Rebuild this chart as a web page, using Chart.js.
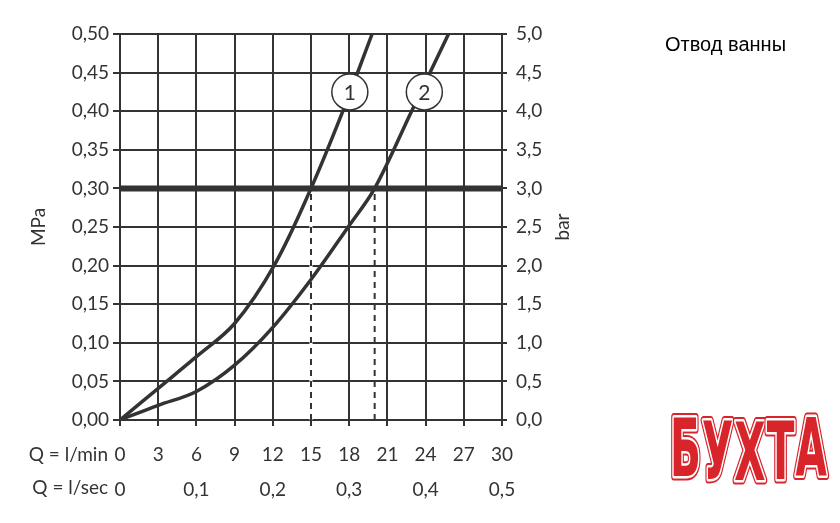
<!DOCTYPE html>
<html lang="ru">
<head>
    <meta charset="UTF-8">
    <title>Отвод ванны</title>
    <script src="https://cdn.jsdelivr.net/npm/chart.js@4.4.1/dist/chart.umd.min.js"></script>
    <style>
        body {
            margin: 0;
            padding: 0;
            background: #fff;
        }
        #wrap {
            width: 840px;
            height: 523px;
        }
    </style>
</head>
<body>
<div id="wrap">
    <canvas id="myChart" width="840" height="523"></canvas>
</div>
<script>
    // ось расхода и давления
    const flowMinTicks = [0, 3, 6, 9, 12, 15, 18, 21, 24, 27, 30];
    const flowSecTicks = [0, 0.1, 0.2, 0.3, 0.4, 0.5];
    const mpaTicks = [0, 0.05, 0.10, 0.15, 0.20, 0.25, 0.30, 0.35, 0.40, 0.45, 0.50];
    const barTicks = [0, 0.5, 1.0, 1.5, 2.0, 2.5, 3.0, 3.5, 4.0, 4.5, 5.0];

    // кривая 1
    const curve1Q = [0, 3, 6, 9, 12.1, 15, 17.5, 19.8];
    const curve1P = [0, 0.041, 0.082, 0.125, 0.20, 0.30, 0.40, 0.50];
    // кривая 2
    const curve2Q = [0, 3, 6, 9, 12, 15, 18, 20, 22.9, 25.8];
    const curve2P = [0, 0.019, 0.037, 0.071, 0.12, 0.182, 0.252, 0.30, 0.40, 0.50];

    // рабочее давление и расходы при нём
    const workPressure = 0.30;
    const workFlows = [15, 20];

    // кружки с номерами
    const markerNames = ['1', '2'];
    const markerQ = [18.05, 23.9];
    const markerP = [0.425, 0.425];

    const ink = '#333333';
    const font = "Lato, 'Open Sans', sans-serif";
    const fs = 19;

    function pts(xs, ys) {
        return xs.map((x, i) => ({x: x, y: ys[i]}));
    }

    function setTicks(arr) {
        return function (scale) {
            scale.ticks = arr.map(v => ({value: v}));
        };
    }

    const extras = {
        id: 'extras',
        afterDraw(chart) {
            const c = chart.ctx;
            const xs = chart.scales.x;
            const x2 = chart.scales.x2;
            const y2 = chart.scales.y2;
            c.save();
            // номера кривых
            const meta = chart.getDatasetMeta(chart.data.datasets.length - 1);
            c.fillStyle = ink;
            c.font = '21px ' + font;
            c.textAlign = 'center';
            c.textBaseline = 'middle';
            meta.data.forEach((p, i) => c.fillText(markerNames[i], p.x, p.y + 1));

            // подписи строк оси
            c.font = fs + 'px ' + font;
            c.textAlign = 'right';
            c.fillText('Q = l/min', xs.left - 12, 455);
            c.fillText('Q = l/sec', x2.left - 12, 488);

            // bar (снизу вверх)
            c.save();
            c.translate(563, (y2.top + y2.bottom) / 2);
            c.rotate(-Math.PI / 2);
            c.textAlign = 'center';
            c.fillText('bar', 0, 0);
            c.restore();

            // заголовок
            c.fillStyle = '#000';
            c.font = "20px 'Liberation Sans', Arial, sans-serif";
            c.textAlign = 'left';
            c.fillText('Отвод ванны', 665, 45);

            // логотип
            const word = 'БУХТА';
            const offs = [0, 3, 4, 3, 0];
            c.font = "bold 80px 'DejaVu Sans Condensed', 'Liberation Sans Narrow', sans-serif";
            c.textAlign = 'left';
            c.textBaseline = 'alphabetic';
            c.lineJoin = 'round';
            let total = 0;
            for (const ch of word) total += c.measureText(ch).width + 2;
            const sx = 158 / total;
            c.translate(670, 0);
            c.scale(sx, 1);
            let lx = 0;
            for (let i = 0; i < word.length; i++) {
                const ch = word[i];
                const y = 476 + offs[i];
                c.lineWidth = 9;
                c.strokeStyle = '#d8242b';
                c.strokeText(ch, lx, y);
                c.lineWidth = 5;
                c.strokeStyle = '#fff';
                c.strokeText(ch, lx, y);
                c.fillStyle = '#d8242b';
                c.fillText(ch, lx, y);
                lx += c.measureText(ch).width + 2;
            }
            c.restore();
        }
    };

    const ctx = document.getElementById('myChart').getContext('2d');
    const myChart = new Chart(ctx, {
        type: 'scatter',
        data: {
            datasets: [{
                data: pts([0, 30], [workPressure, workPressure]),
                showLine: true,
                borderColor: ink,
                borderWidth: 6,
                pointRadius: 0,
                order: 2
            }, {
                data: pts([workFlows[0], workFlows[0]], [0, workPressure]),
                showLine: true,
                borderColor: '#ffffff',
                borderWidth: 3,
                pointRadius: 0,
                order: 5
            }, {
                data: pts([workFlows[0], workFlows[0]], [0, workPressure]),
                showLine: true,
                borderColor: ink,
                borderWidth: 2,
                borderDash: [6, 5],
                pointRadius: 0,
                order: 4
            }, {
                data: pts([workFlows[1], workFlows[1]], [0, workPressure]),
                showLine: true,
                borderColor: ink,
                borderWidth: 2,
                borderDash: [6, 5],
                pointRadius: 0,
                order: 4
            }, {
                data: pts(curve1Q, curve1P),
                showLine: true,
                borderColor: ink,
                borderWidth: 3.5,
                tension: 0.35,
                pointRadius: 0,
                order: 1
            }, {
                data: pts(curve2Q, curve2P),
                showLine: true,
                borderColor: ink,
                borderWidth: 3.5,
                tension: 0.35,
                pointRadius: 0,
                order: 1
            }, {
                data: pts(markerQ, markerP),
                pointRadius: 18,
                pointBackgroundColor: '#ffffff',
                pointBorderColor: ink,
                pointBorderWidth: 1.5,
                order: 0
            }]
        },
        options: {
            responsive: false,
            animation: false,
            events: [],
            layout: {
                padding: {left: 0, right: 258, top: 34, bottom: 0}
            },
            plugins: {
                legend: {display: false},
                tooltip: {enabled: false}
            },
            scales: {
                x: {
                    type: 'linear',
                    position: 'bottom',
                    weight: 0,
                    min: 0,
                    max: 30,
                    afterBuildTicks: setTicks(flowMinTicks),
                    afterFit(s) { s.height = 50; },
                    grid: {color: ink, lineWidth: 2, tickLength: 6},
                    border: {color: ink, width: 2},
                    ticks: {
                        color: ink,
                        padding: 17,
                        maxRotation: 0,
                        font: {family: font, size: fs}
                    }
                },
                x2: {
                    type: 'linear',
                    position: 'bottom',
                    weight: 1,
                    min: 0,
                    max: 0.5,
                    afterBuildTicks: setTicks(flowSecTicks),
                    afterFit(s) { s.height = 53; },
                    grid: {display: false},
                    border: {display: false},
                    ticks: {
                        color: ink,
                        padding: 0,
                        maxRotation: 0,
                        font: {family: font, size: fs},
                        callback: v => v === 0 ? '0' : v.toFixed(1).replace('.', ',')
                    }
                },
                y: {
                    type: 'linear',
                    position: 'left',
                    min: 0,
                    max: 0.5,
                    afterBuildTicks: setTicks(mpaTicks),
                    afterFit(s) { s.width = 120; },
                    grid: {color: ink, lineWidth: 2, tickLength: 7},
                    border: {color: ink, width: 2},
                    title: {
                        display: true,
                        text: 'MPa',
                        color: ink,
                        padding: {top: 27, bottom: 0},
                        font: {family: font, size: fs}
                    },
                    ticks: {
                        color: ink,
                        padding: 4,
                        font: {family: font, size: fs},
                        callback: v => v.toFixed(2).replace('.', ',')
                    }
                },
                y2: {
                    type: 'linear',
                    position: 'right',
                    min: 0,
                    max: 5,
                    afterBuildTicks: setTicks(barTicks),
                    afterFit(s) { s.width = 80; },
                    grid: {drawOnChartArea: false, color: ink, lineWidth: 2, tickLength: 5},
                    border: {color: ink, width: 2},
                    ticks: {
                        color: ink,
                        padding: 9,
                        font: {family: font, size: fs},
                        callback: v => v.toFixed(1).replace('.', ',')
                    }
                }
            }
        },
        plugins: [extras]
    });
</script>
</body>
</html>
